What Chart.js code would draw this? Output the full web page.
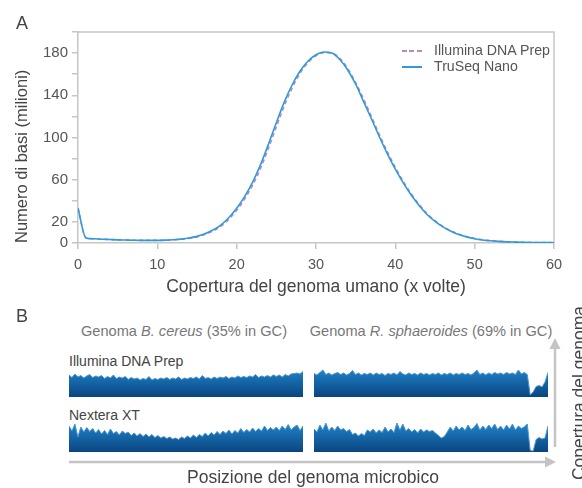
<!DOCTYPE html>
<html>
<head>
<meta charset="utf-8">
<script src="https://cdn.jsdelivr.net/npm/chart.js@4"></script>
<style>
  body { margin: 0; background: #fff; }
  #wrap { position: relative; width: 582px; height: 488px; overflow: hidden; font-family: "Liberation Sans", Arial, sans-serif; color: #444; }
  #wrap canvas { position: absolute; }
  .txt { position: absolute; line-height: 1; white-space: nowrap; }
  .panel { font-size: 18px; color: #444; }
  .genome { font-size: 14.6px; color: #777; transform: translateX(-50%); }
  .lib { font-size: 14px; color: #444; }
  .leg { position: absolute; font-size: 14.2px; color: #555; line-height: 1; white-space: nowrap; }
  .swatch { position: absolute; width: 20px; height: 1.6px; }
</style>
</head>
<body>
<div id="wrap">
  <canvas id="histChart" width="582" height="300" style="left:0;top:0"></canvas>

  <div class="txt panel" style="left:16px;top:14px">A</div>
  <div class="swatch" style="left:402px;top:50px;background:repeating-linear-gradient(to right,#b98ac1 0 5px,transparent 5px 7.5px)"></div>
  <div class="leg" style="left:434px;top:43px">Illumina DNA Prep</div>
  <div class="swatch" style="left:402px;top:66px;background:#2e9bd8"></div>
  <div class="leg" style="left:434px;top:59px">TruSeq Nano</div>

  <div class="txt panel" style="left:16px;top:307px">B</div>
  <div class="txt genome" style="left:184px;top:324px">Genoma <i>B. cereus</i> (35% in GC)</div>
  <div class="txt genome" style="left:431px;top:324px">Genoma <i>R. sphaeroides</i> (69% in GC)</div>
  <div class="txt lib" style="left:69px;top:354px">Illumina DNA Prep</div>
  <div class="txt lib" style="left:69px;top:407.5px">Nextera XT</div>

  <canvas id="cereusIll" width="234" height="30" style="left:69px;top:367px"></canvas>
  <canvas id="sphaerIll" width="234" height="30" style="left:314px;top:367px"></canvas>
  <canvas id="cereusNex" width="234" height="30" style="left:69px;top:422px"></canvas>
  <canvas id="sphaerNex" width="234" height="30" style="left:314px;top:422px"></canvas>

  <svg width="582" height="488" style="position:absolute;left:0;top:0">
    <line x1="69" y1="462" x2="547" y2="462" stroke="#c4c4c4" stroke-width="2.5"/>
    <polygon points="545,456.5 556,462 545,467.5" fill="#c4c4c4"/>
    <line x1="555" y1="447" x2="555" y2="347" stroke="#c4c4c4" stroke-width="2.5"/>
    <polygon points="549.5,349 555,338 560.5,349" fill="#c4c4c4"/>
  </svg>
  <div class="txt" style="left:313px;top:468.5px;font-size:17.5px;transform:translateX(-50%)">Posizione del genoma microbico</div>
  <div class="txt" style="left:580px;top:393px;font-size:17.5px;height:17.5px;transform:translate(-50%,-50%) rotate(-90deg)">Copertura del genoma</div>
</div>

<script>
// Panel A: coverage histogram
const coverage = [0,1,2,3,4,5,6,7,8,9,10,11,12,13,14,15,16,17,18,19,20,21,22,23,24,25,26,27,28,29,30,
  31,32,33,34,35,36,37,38,39,40,41,42,43,44,45,46,47,48,49,50,51,52,53,54,55,56,57,58,59,60];
const truSeqNano = [33,4.8,4,3.6,3.3,3,2.8,2.6,2.5,2.5,2.5,2.7,3.1,3.7,4.7,6.3,8.7,12.3,17,24,33,
  44,57.5,74,93.5,114,133.5,150,163,172.5,178.5,181,180,174,164,150.5,134,117.5,100.5,84.5,70,
  57,45.5,35.5,27,20.5,15.3,11.2,8.1,5.8,4.1,2.9,2.1,1.5,1.1,0.85,0.65,0.5,0.4,0.35,0.3];
const illuminaPrep = [33,5,4,3.6,3.3,3,2.8,2.6,2.5,2.5,2.5,2.6,3,3.5,4.4,5.8,8.1,11.3,15.8,22.4,31,
  41.6,54.6,70.5,89.7,110,130,147,161,171,177.5,180.3,180,175,165.3,152,136.5,119.5,102.5,86.4,71.6,
  58.4,46.7,36.6,27.8,21.2,15.8,11.6,8.4,6,4.3,3.1,2.2,1.6,1.2,0.9,0.7,0.55,0.45,0.38,0.32];
const yLabelled = [0, 20, 60, 100, 140, 180];

// Panel B: relative read depth along each microbial genome (80 bins)
const cereusIllumina = [44,39,46,40,43,38,42,45,39,42, 40,43,37,41,38,44,37,40,38,41,
  35,39,36,38,34,37,35,41,34,37, 35,38,36,39,35,38,36,40,35,38, 36,39,37,40,36,43,37,39,36,40,
  37,40,38,41,37,40,38,42,39,41, 39,42,40,45,39,42,40,43,40,44, 41,44,40,45,42,46,47,48,46,51];
const cereusNextera = [52,42,56,30,50,40,49,41,47,38, 45,36,43,35,46,37,41,34,42,37,
  40,33,38,32,37,31,36,30,35,29, 33,28,31,27,30,26,28,25,30,27, 32,28,34,29,35,31,38,32,39,34,
  41,35,42,37,44,36,43,38,47,39, 45,40,48,41,47,42,52,43,49,44, 50,43,52,45,55,44,50,54,43,52];
const sphaerIllumina = [47,44,49,54,45,48,44,47,49,45, 48,44,47,53,45,48,44,47,45,48,
  44,48,45,47,43,47,45,48,44,51, 46,44,48,45,47,44,48,45,47,44, 47,45,48,44,47,45,48,44,47,45,
  48,45,47,44,48,54,45,48,44,48, 45,49,46,48,45,49,46,48,45,54, 46,49,45,4,10,21,23,20,30,49];
const sphaerNextera = [46,40,54,44,58,42,50,43,52,44, 47,41,45,35,38,32,37,33,44,40,
  46,38,44,39,50,40,46,39,58,44, 56,42,47,40,45,38,46,40,44,41, 43,38,33,28,31,40,50,42,52,44,
  50,43,54,45,49,57,44,52,45,54, 47,56,45,52,44,54,46,56,44,52, 47,50,56,3,2,25,29,26,28,52];

Chart.defaults.font.family = '"Liberation Sans", Arial, sans-serif';
Chart.defaults.color = '#555';

const axisGrey = '#c6c6c6';

const frame = {
  id: 'frame',
  beforeDatasetsDraw(chart) {
    const { ctx, chartArea: a } = chart;
    ctx.save();
    ctx.strokeStyle = axisGrey;
    ctx.lineWidth = 1.5;
    ctx.beginPath();
    ctx.moveTo(a.left, a.top);
    ctx.lineTo(a.right, a.top);
    ctx.lineTo(a.right, a.bottom);
    ctx.stroke();
    ctx.restore();
  }
};

const toPoints = vals => vals.map((v, i) => ({ x: coverage[i], y: v }));

new Chart(document.getElementById('histChart'), {
  type: 'line',
  data: {
    datasets: [
      { label: 'TruSeq Nano', data: toPoints(truSeqNano), borderColor: '#2e9bd8', borderWidth: 1.6,
        pointRadius: 0, cubicInterpolationMode: 'monotone', order: 0 },
      { label: 'Illumina DNA Prep', data: toPoints(illuminaPrep), borderColor: '#b98ac1', borderWidth: 1.6,
        borderDash: [4, 3], pointRadius: 0, cubicInterpolationMode: 'monotone', order: 1 }
    ]
  },
  options: {
    responsive: false,
    animation: false,
    events: [],
    layout: { padding: { top: 32, right: 28, left: 0, bottom: 0 } },
    plugins: { legend: { display: false }, tooltip: { enabled: false } },
    scales: {
      x: {
        type: 'linear', min: 0, max: 60,
        ticks: { stepSize: 10, padding: 7, font: { size: 14.5 }, color: '#555' },
        grid: { drawOnChartArea: false, tickLength: 6, color: axisGrey, lineWidth: 1.5 },
        border: { color: axisGrey, width: 1.5 },
        title: { display: true, text: 'Copertura del genoma umano (x volte)', font: { size: 17.5 }, color: '#444', padding: { bottom: 2 } },
        afterFit: s => { s.height = 57; }
      },
      y: {
        min: 0, max: 200,
        ticks: { stepSize: 20, padding: 4, autoSkip: false, font: { size: 15 }, color: '#555',
          callback: v => yLabelled.includes(v) ? v : '' },
        grid: { drawOnChartArea: false, tickLength: 6, color: axisGrey, lineWidth: 1.5 },
        border: { color: axisGrey, width: 1.5 },
        title: { display: true, text: 'Numero di basi (milioni)', align: 'start', font: { size: 16.5 }, color: '#444', padding: { top: 13 } },
        afterFit: s => { s.width = 78; }
      }
    }
  },
  plugins: [frame]
});

function trackFill(ctx) {
  const a = ctx.chart.chartArea;
  if (!a) return '#15609f';
  const g = ctx.chart.ctx.createLinearGradient(0, a.bottom, 0, a.top);
  g.addColorStop(0, '#0a4580');
  g.addColorStop(0.75, '#1b76ba');
  g.addColorStop(1, '#2a86c8');
  return g;
}

function makeTrack(id, values) {
  new Chart(document.getElementById(id), {
    type: 'line',
    data: {
      labels: values.map((_, i) => i),
      datasets: [{ data: values, fill: 'origin', backgroundColor: trackFill, borderColor: '#4a96d0',
        borderWidth: 1, pointRadius: 0, tension: 0 }]
    },
    options: {
      responsive: false,
      animation: false,
      events: [],
      layout: { padding: 0 },
      plugins: { legend: { display: false }, tooltip: { enabled: false } },
      scales: { x: { display: false }, y: { display: false, min: 0, max: 60 } }
    }
  });
}

makeTrack('cereusIll', cereusIllumina);
makeTrack('cereusNex', cereusNextera);
makeTrack('sphaerIll', sphaerIllumina);
makeTrack('sphaerNex', sphaerNextera);
</script>
</body>
</html>
